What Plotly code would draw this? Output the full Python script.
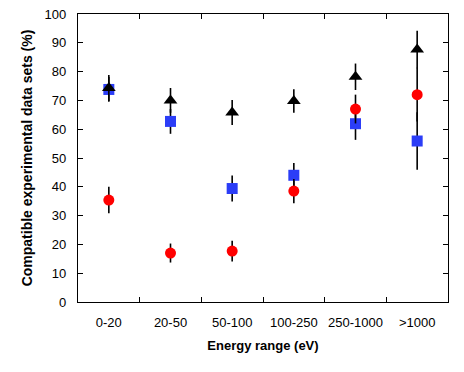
import plotly.graph_objs as go

# Energy ranges (categories)
energy = ["0-20", "20-50", "50-100", "100-250", "250-1000", ">1000"]

# Compatible data sets (%) per series, with symmetric errors
tri_vals = [74.3, 70.0, 65.8, 69.8, 78.2, 87.7]
tri_err = [4.5, 4.3, 4.3, 4.1, 4.6, 6.5]

sq_vals = [73.8, 62.7, 39.4, 44.0, 61.9, 55.9]
sq_err = [4.3, 4.3, 4.5, 4.3, 5.6, 10.0]

circ_vals = [35.4, 17.0, 17.7, 38.5, 67.0, 72.0]
circ_err = [4.6, 3.3, 3.6, 4.2, 5.0, 9.3]

font_family = "Liberation Sans, Arial, Helvetica, sans-serif"


def series(y, err, symbol, color, size):
    return go.Scatter(
        x=energy, y=y, mode="markers",
        marker=dict(symbol=symbol, color=color, size=size, line=dict(width=0)),
        error_y=dict(type="data", array=err, visible=True, color="black",
                     thickness=1.6, width=0),
        showlegend=False,
    )


fig = go.Figure()
fig.add_trace(series(sq_vals, sq_err, "square", "#2b3df7", 11))
fig.add_trace(series(circ_vals, circ_err, "circle", "#ff0000", 11))
fig.add_trace(series(tri_vals, tri_err, "triangle-up", "black", 12))

axis_style = dict(
    showline=True, linecolor="black", linewidth=1.2, mirror="ticks",
    ticks="inside", ticklen=5, tickcolor="black", tickwidth=1,
    showgrid=False, zeroline=False, automargin=False,
    tickfont=dict(family=font_family, size=13, color="black"),
)

fig.update_xaxes(
    type="category", range=[-0.5, 5.5], tickson="boundaries", tickangle=0,
    ticklabelstandoff=8,
    title=dict(text="<b>Energy range (eV)</b>", standoff=12,
               font=dict(family=font_family, size=13, color="black")),
    **axis_style,
)
fig.update_yaxes(
    range=[0, 100], dtick=10, ticklabelstandoff=8,
    title=dict(text="<b>Compatible experimental data sets (%)</b>", standoff=8,
               font=dict(family=font_family, size=14, color="black")),
    **axis_style,
)

fig.update_layout(
    width=464, height=372,
    margin=dict(l=78, r=16, t=14, b=70),
    plot_bgcolor="white", paper_bgcolor="white",
    font=dict(family=font_family, size=13, color="black"),
)

# drop the page's default 8px body margin so the figure sits at the corner
fig.write_html("out.html", config={"displayModeBar": False},
               post_script="document.body.style.margin='0';")
